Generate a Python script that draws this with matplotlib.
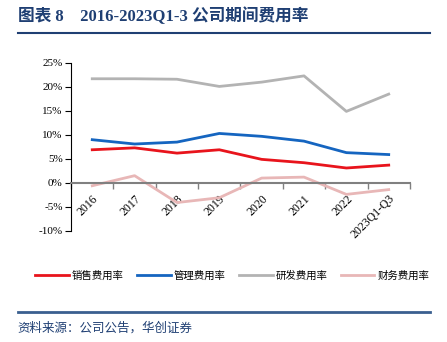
import matplotlib.pyplot as plt
import numpy as np
from matplotlib.ticker import FixedLocator

plt.rcParams['font.family'] = ['Liberation Serif', 'Noto Sans CJK SC']

years = ['2016', '2017', '2018', '2019', '2020', '2021', '2022', '2023Q1-Q3']
sales = [6.9, 7.3, 6.2, 6.9, 4.9, 4.2, 3.1, 3.7]
admin = [9.0, 8.1, 8.5, 10.3, 9.7, 8.7, 6.3, 5.9]
rnd = [21.7, 21.7, 21.6, 20.1, 21.0, 22.3, 14.9, 18.5]
finance = [-0.6, 1.5, -4.1, -3.1, 1.0, 1.2, -2.4, -1.4]

names = ['销售费用率', '管理费用率', '研发费用率', '财务费用率']
colors = ['#e8141c', '#1565c0', '#b3b3b3', '#e8b7b7']
navy = '#1f3f73'

fig = plt.figure(figsize=(4.47, 3.42), dpi=100)
ax = fig.add_axes([0.159, 0.325, 0.758, 0.491])

# axis layout first: moving a spine resets the ticks
for s in ['top', 'right']:
    ax.spines[s].set_visible(False)
ax.spines['bottom'].set_position(('data', 0))
ax.spines['bottom'].set_color('#808080')
ax.spines['bottom'].set_linewidth(1.5)
ax.spines['left'].set_linewidth(0.8)

x = np.arange(len(years))
for vals, name, c in zip([sales, admin, rnd, finance], names, colors):
    ax.plot(x, vals, color=c, lw=2, label=name)

ax.set_xlim(-0.5, len(years) - 0.5)
ax.set_ylim(-10, 25)
ax.set_yticks(range(-10, 26, 5))
ax.set_yticklabels([f'{v}%' for v in range(-10, 26, 5)], fontsize=8)
ax.tick_params(axis='y', length=4, width=0.8, pad=2)

ax.set_xticks(x)
ax.set_xticklabels(years, rotation=45, ha='right', rotation_mode='anchor', fontsize=8.5)
ax.xaxis.set_minor_locator(FixedLocator(np.arange(-0.5, len(years), 1)))
ax.tick_params(axis='x', which='major', length=0, pad=7)
ax.tick_params(axis='x', which='minor', length=4, color='#808080', width=1)

leg = fig.legend(loc='center', bbox_to_anchor=(0.52, 0.195), ncol=4, frameon=False,
                 handlelength=3.2, handletextpad=0.3, columnspacing=1.3,
                 prop={'family': 'Noto Sans CJK SC', 'size': 7.5})

fig.text(0.04, 0.953, '图表 8    2016-2023Q1-3 公司期间费用率', fontsize=12, fontweight='bold',
         color=navy, va='center', family=['Liberation Serif', 'Noto Sans CJK SC'])
fig.add_artist(plt.Line2D([0.04, 0.962], [0.903, 0.903], color=navy, lw=1.5))
fig.add_artist(plt.Line2D([0.04, 0.962], [0.088, 0.088], color='#3a5f8f', lw=2))
fig.text(0.04, 0.04, '资料来源：公司公告，华创证券', fontsize=9, style='italic',
         color=navy, va='center', family='Noto Sans CJK SC')

fig.savefig('out.png', dpi=100)
